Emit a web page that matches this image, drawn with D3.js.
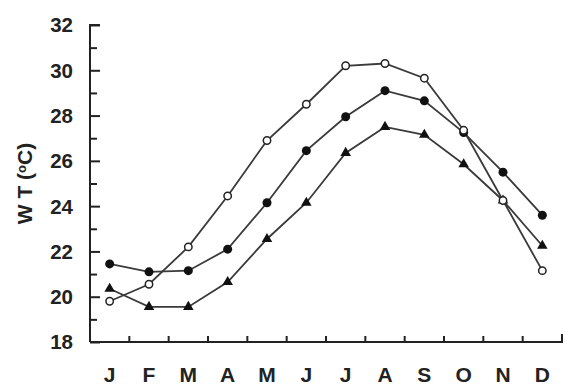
<!DOCTYPE html>
<html>
<head>
<meta charset="utf-8">
<script src="https://cdn.jsdelivr.net/npm/d3@7"></script>
<style>
  html, body { margin: 0; padding: 0; background: #fff; }
  svg { display: block; font-family: "Liberation Sans", Arial, sans-serif; }
</style>
</head>
<body>
<div id="chart"></div>
<script>
/* Monthly water temperature, three series. */

var months = ["J", "F", "M", "A", "M", "J", "J", "A", "S", "O", "N", "D"];
var openCircle = [19.8, 20.55, 22.2, 24.45, 26.9, 28.5, 30.2, 30.3, 29.65, 27.35, 24.25, 21.15];
var filledCircle = [21.45, 21.1, 21.15, 22.1, 24.15, 26.45, 27.95, 29.1, 28.65, 27.25, 25.5, 23.6];
var triangle = [20.35, 19.55, 19.55, 20.65, 22.55, 24.15, 26.35, 27.5, 27.15, 25.85, 24.25, 22.25];
var yTicks = [18, 20, 22, 24, 26, 28, 30, 32];

var W = 565, H = 385;
var m = { left: 90, right: 3, top: 25, bottom: 43 };
var ink = "#222";

var svg = d3.select("#chart").append("svg")
  .attr("width", W).attr("height", H);

var x = d3.scaleBand().domain(d3.range(months.length))
  .range([m.left, W - m.right]).padding(0);
var y = d3.scaleLinear().domain([18, 32]).range([H - m.bottom, m.top]);

// y axis, ticks pointing inward
var yAxis = svg.append("g").attr("transform", "translate(" + m.left + ",0)")
  .call(d3.axisRight(y).tickValues(d3.range(18, 33, 1)).tickSize(7).tickFormat(""));
yAxis.selectAll(".tick line")
  .attr("x2", function (d) { return d % 2 === 0 ? 10 : 7; })
  .attr("stroke", ink).attr("stroke-width", 2);
yAxis.select(".domain").attr("d", "M10," + y(32) + "H0V" + y(18)).attr("stroke", ink).attr("stroke-width", 2).attr("fill", "none");

svg.append("g").selectAll("text").data(yTicks).enter().append("text")
  .attr("x", m.left - 17).attr("y", function (d) { return y(d); })
  .attr("dy", "0.36em").attr("text-anchor", "end")
  .attr("font-size", 20.5).attr("font-weight", 700).attr("fill", ink)
  .text(function (d) { return d; });

// x axis, bracket with inward ticks between months
var xAxis = svg.append("g").attr("transform", "translate(0," + y(18) + ")");
var bounds = d3.range(1, months.length).map(function (i) { return x(i); });
xAxis.append("path")
  .attr("d", "M" + m.left + ",0H" + (W - m.right) + "V-8")
  .attr("stroke", ink).attr("stroke-width", 2).attr("fill", "none");
xAxis.selectAll("line").data(bounds).enter().append("line")
  .attr("x1", function (d) { return d; }).attr("x2", function (d) { return d; })
  .attr("y1", 0).attr("y2", -6)
  .attr("stroke", ink).attr("stroke-width", 2);

svg.append("g").selectAll("text").data(months).enter().append("text")
  .attr("x", function (_d, i) { return x(i) + x.bandwidth() / 2; })
  .attr("y", 382).attr("text-anchor", "middle")
  .attr("font-size", 21).attr("font-weight", 700).attr("fill", ink)
  .text(function (d) { return d; });

var title = svg.append("text")
  .attr("transform", "translate(32," + ((y(18) + y(32)) / 2) + ") rotate(-90)")
  .attr("text-anchor", "middle")
  .attr("font-size", 21).attr("font-weight", 700).attr("fill", ink);
title.append("tspan").text("W T (");
title.append("tspan").attr("font-size", 13).attr("dy", -6).text("o");
title.append("tspan").attr("dy", 6).text("C)");

var cx = function (_d, i) { return x(i) + x.bandwidth() / 2; };
var line = d3.line().x(cx).y(function (d) { return y(d); });

[openCircle, filledCircle, triangle].forEach(function (s) {
  svg.append("path").datum(s).attr("d", line)
    .attr("fill", "none").attr("stroke", "#3a3a3a").attr("stroke-width", 1.8);
});

svg.append("g").selectAll("circle").data(filledCircle).enter().append("circle")
  .attr("cx", cx).attr("cy", function (d) { return y(d); }).attr("r", 4.5)
  .attr("fill", "#111");

svg.append("g").selectAll("path").data(triangle).enter().append("path")
  .attr("d", d3.symbol().type(d3.symbolTriangle).size(48))
  .attr("transform", function (d, i) { return "translate(" + cx(d, i) + "," + y(d) + ")"; })
  .attr("fill", "#111");

svg.append("g").selectAll("circle").data(openCircle).enter().append("circle")
  .attr("cx", cx).attr("cy", function (d) { return y(d); }).attr("r", 3.7)
  .attr("fill", "#fff").attr("stroke", "#222").attr("stroke-width", 1.5);
</script>
</body>
</html>
